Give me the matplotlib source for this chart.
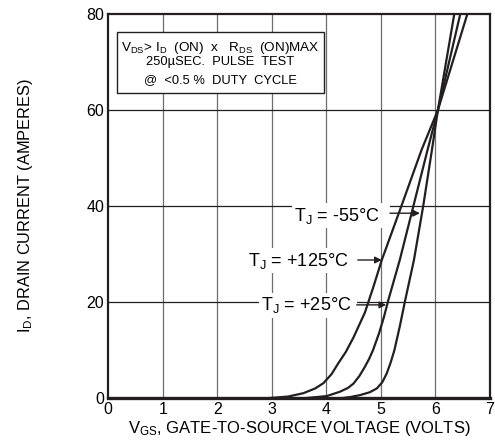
import matplotlib
matplotlib.use("Agg")
import matplotlib.pyplot as plt
from matplotlib.patches import Rectangle

plt.rcParams['font.family'] = ['Liberation Sans', 'DejaVu Sans']
plt.rcParams['mathtext.fontset'] = 'custom'
plt.rcParams['mathtext.rm'] = 'Liberation Sans'
plt.rcParams['mathtext.it'] = 'Liberation Sans'
plt.rcParams['mathtext.bf'] = 'Liberation Sans'

# ---- data ----
vgs_125 = [2.97, 3.30, 3.58, 3.80, 3.95, 4.10, 4.22, 4.36, 4.50, 4.71, 4.87, 5.02, 5.38, 5.75, 6.05, 6.59]
id_125 = [0, 0.3, 1.0, 2.0, 3.1, 5.0, 7.2, 9.6, 12.6, 17.8, 23.3, 28.75, 40, 51.7, 60, 80]
vgs_25 = [3.64, 4.01, 4.25, 4.40, 4.50, 4.61, 4.71, 4.79, 4.86, 4.97, 5.06, 5.14, 5.35, 5.60, 5.86, 6.05, 6.46]
id_25 = [0, 0.4, 1.3, 2.1, 3.0, 4.6, 6.5, 8.2, 10.0, 13.5, 16.9, 20.4, 28.75, 40, 51.7, 60, 80]
vgs_m55 = [4.31, 4.44, 4.62, 4.80, 4.93, 5.03, 5.11, 5.18, 5.25, 5.35, 5.45, 5.61, 5.78, 5.94, 6.05, 6.35]
id_m55 = [0, 0.2, 0.6, 1.2, 2.0, 3.3, 5.1, 7.3, 9.9, 14.9, 20.4, 28.75, 40, 51.7, 60, 80]
x_ticks = [0, 1, 2, 3, 4, 5, 6, 7]
y_ticks = [0, 20, 40, 60, 80]

W, H = 495, 448
fig = plt.figure(figsize=(W / 100, H / 100), dpi=100)
ax = fig.add_axes([108.2 / W, 50 / H, (489.7 - 108.2) / W, (398 - 14) / H])
ax.set_xlim(0, 7)
ax.set_ylim(0, 80)

ink = '#231f20'
for xv in x_ticks[1:-1]:
    ax.axvline(xv, color='#6d6d6d', lw=0.9, zorder=1)
for yv in y_ticks[1:-1]:
    ax.axhline(yv, color=ink, lw=0.9, zorder=1)

for xs, ys in ((vgs_125, id_125), (vgs_25, id_25), (vgs_m55, id_m55)):
    ax.plot(xs, ys, color=ink, lw=1.6, zorder=3, solid_joinstyle='round')

ax.set_xticks(x_ticks)
ax.set_yticks(y_ticks)
ax.tick_params(length=0, labelsize=11.5, pad=3, colors='black')
for s in ('left', 'top', 'right'):
    ax.spines[s].set_linewidth(1.6)
    ax.spines[s].set_color(ink)
ax.spines['bottom'].set_linewidth(2.4)
ax.spines['bottom'].set_color(ink)
for sp in ax.spines.values():
    sp.set_zorder(5)

ax.set_xlabel(r'$\mathregular{V_{GS}}$, GATE-TO-SOURCE VOLTAGE (VOLTS)', fontsize=12, labelpad=1)
ax.set_ylabel(r'$\mathregular{I_D}$, DRAIN CURRENT (AMPERES)', fontsize=11.8, labelpad=37)

# condition box
ax.add_patch(Rectangle((0.16, 63.5), 3.80, 12.7, facecolor='white', edgecolor=ink, lw=1.0, zorder=4))
bx = 2.06
ax.text(bx, 73.0, r'$\mathregular{V_{DS}}$> $\mathregular{I_D}$  (ON)  x   $\mathregular{R_{DS}}$  (ON)MAX',
        ha='center', va='center', fontsize=9.7, zorder=6)
ax.text(bx, 69.9, '250µSEC.  PULSE  TEST', ha='center', va='center', fontsize=9.3, zorder=6)
ax.text(bx, 66.2, '@  <0.5 %  DUTY  CYCLE', ha='center', va='center', fontsize=9.3, zorder=6)

# temperature labels with arrows
labels = [
    (r'$\mathregular{T_J}$ = -55°C', 4.99, 38.0, 5.17, 5.72, 38.5),
    (r'$\mathregular{T_J}$ = +125°C', 4.40, 28.6, 4.58, 5.02, 28.75),
    (r'$\mathregular{T_J}$ = +25°C', 4.47, 19.3, 4.56, 5.10, 19.4),
]
for txt, tx, ty, ax0, ax1, ay in labels:
    ax.text(tx, ty, txt, ha='right', va='center', fontsize=13, zorder=6,
            bbox=dict(facecolor='white', edgecolor='none', pad=2.0))
    ax.add_patch(Rectangle((tx, ty - 2.2), ax0 - tx, 4.4, facecolor='white', edgecolor='none', zorder=4))
    ax.annotate('', xy=(ax1, ay), xytext=(ax0, ay), zorder=7,
                arrowprops=dict(arrowstyle='-|>', color=ink, lw=1.0, mutation_scale=10,
                                shrinkA=0, shrinkB=0))

fig.savefig('out.png', dpi=100, facecolor='white')
